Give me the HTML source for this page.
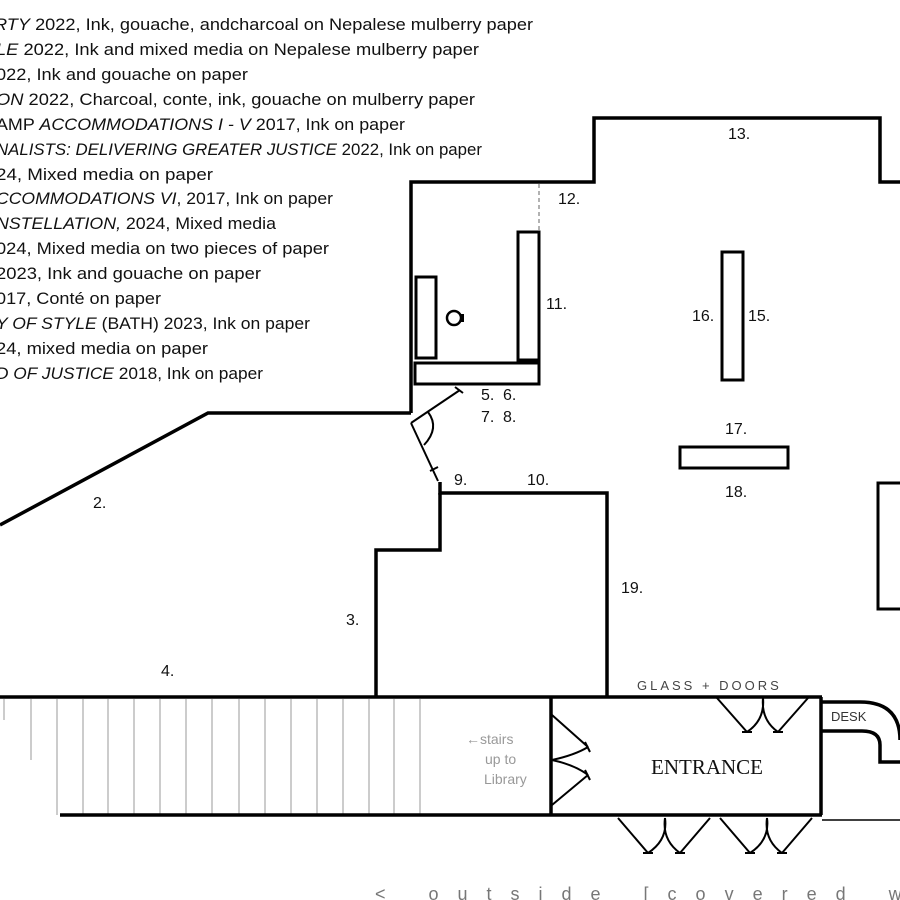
<!DOCTYPE html>
<html><head><meta charset="utf-8"><style>
html,body{margin:0;padding:0;background:#fff;}
svg{display:block;}
.t{font-family:"Liberation Sans",sans-serif;font-size:17px;fill:#111;}
.n{font-family:"Liberation Sans",sans-serif;font-size:16px;fill:#111;}
.w{stroke:#000;stroke-width:3.5;fill:none;}
.p{stroke:#000;stroke-width:3;fill:#fff;}
.d{stroke:#000;stroke-width:2;fill:none;}
</style></head><body>
<svg width="900" height="900" viewBox="0 0 900 900" xmlns="http://www.w3.org/2000/svg">
<g class="t">
<text x="-6" y="30" textLength="539" lengthAdjust="spacingAndGlyphs"><tspan font-style="italic">RTY</tspan> 2022, Ink, gouache, andcharcoal on Nepalese mulberry paper</text>
<text x="-4" y="55" textLength="483" lengthAdjust="spacingAndGlyphs"><tspan font-style="italic">LE</tspan> 2022, Ink and mixed media on Nepalese mulberry paper</text>
<text x="-4" y="80" textLength="252" lengthAdjust="spacingAndGlyphs">022, Ink and gouache on paper</text>
<text x="-4" y="105" textLength="479" lengthAdjust="spacingAndGlyphs"><tspan font-style="italic">ON</tspan> 2022, Charcoal, conte, ink, gouache on mulberry paper</text>
<text x="-4" y="130" textLength="409" lengthAdjust="spacingAndGlyphs">AMP <tspan font-style="italic">ACCOMMODATIONS I - V</tspan> 2017, Ink on paper</text>
<text x="-4" y="155" textLength="486" lengthAdjust="spacingAndGlyphs"><tspan font-style="italic">NALISTS: DELIVERING GREATER JUSTICE</tspan> 2022, Ink on paper</text>
<text x="-4" y="180" textLength="217" lengthAdjust="spacingAndGlyphs">24, Mixed media on paper</text>
<text x="-4" y="204" textLength="337" lengthAdjust="spacingAndGlyphs"><tspan font-style="italic">CCOMMODATIONS VI</tspan>, 2017, Ink on paper</text>
<text x="-4" y="229" textLength="280" lengthAdjust="spacingAndGlyphs"><tspan font-style="italic">NSTELLATION,</tspan> 2024, Mixed media</text>
<text x="-4" y="254" textLength="333" lengthAdjust="spacingAndGlyphs">024, Mixed media on two pieces of paper</text>
<text x="-4" y="279" textLength="265" lengthAdjust="spacingAndGlyphs">2023, Ink and gouache on paper</text>
<text x="-4" y="304" textLength="165" lengthAdjust="spacingAndGlyphs">017, Conté on paper</text>
<text x="-4" y="329" textLength="314" lengthAdjust="spacingAndGlyphs"><tspan font-style="italic">Y OF STYLE</tspan> (BATH) 2023, Ink on paper</text>
<text x="-4" y="354" textLength="212" lengthAdjust="spacingAndGlyphs">24, mixed media on paper</text>
<text x="-4" y="379" textLength="267" lengthAdjust="spacingAndGlyphs"><tspan font-style="italic">D OF JUSTICE</tspan> 2018, Ink on paper</text>
</g>
<g stroke="#999" stroke-width="1">
<line x1="4" y1="699" x2="4" y2="720"/><line x1="31" y1="699" x2="31" y2="760"/>
<line x1="57" y1="699" x2="57" y2="815"/><line x1="83" y1="699" x2="83" y2="815"/>
<line x1="108" y1="699" x2="108" y2="815"/><line x1="134" y1="699" x2="134" y2="815"/>
<line x1="160" y1="699" x2="160" y2="815"/><line x1="186" y1="699" x2="186" y2="815"/>
<line x1="212" y1="699" x2="212" y2="815"/><line x1="239" y1="699" x2="239" y2="815"/>
<line x1="265" y1="699" x2="265" y2="815"/><line x1="291" y1="699" x2="291" y2="815"/>
<line x1="317" y1="699" x2="317" y2="815"/><line x1="343" y1="699" x2="343" y2="815"/>
<line x1="369" y1="699" x2="369" y2="815"/><line x1="394" y1="699" x2="394" y2="815"/>
<line x1="420" y1="699" x2="420" y2="815"/>
</g>
<g font-family="Liberation Sans,sans-serif" font-size="14" fill="#999">
<text x="466" y="744">←stairs</text><text x="485" y="764">up to</text><text x="484" y="784">Library</text>
</g>
<g class="w">
<polyline points="411,413 411,182 594,182 594,118 880,118 880,182 900,182"/>
<polyline points="411,413 208,413 0,525"/>
<polyline points="440,482 440,493 607,493 607,697"/>
<polyline points="440,493 440,550 376,550 376,697"/>
<line x1="0" y1="697" x2="822" y2="697"/>
<line x1="60" y1="815" x2="822" y2="815"/>
<line x1="551" y1="697" x2="551" y2="815"/>
<line x1="821" y1="697" x2="821" y2="815"/>
<path d="M821,702 H860 Q900,702 900,740"/>
<path d="M821,731 H862 Q880,731 880,745 V762 H900"/>
</g>
<line x1="822" y1="820" x2="900" y2="820" stroke="#000" stroke-width="1.5"/>
<line x1="539" y1="184" x2="539" y2="232" stroke="#999" stroke-width="1.5" stroke-dasharray="4,3"/>
<rect class="p" x="518" y="232" width="21" height="128"/>
<rect class="p" x="416" y="277" width="20" height="81"/>
<rect class="p" x="415" y="363" width="124" height="21"/>
<rect class="p" x="722" y="252" width="21" height="128"/>
<rect class="p" x="680" y="447" width="108" height="21"/>
<rect class="p" x="878" y="483" width="30" height="126"/>
<circle cx="454" cy="318" r="7" fill="none" stroke="#000" stroke-width="2.5"/>
<rect x="460" y="314" width="4" height="8" fill="#000"/>
<g class="d">
<line x1="411" y1="423" x2="460" y2="390"/>
<line x1="411" y1="423" x2="438" y2="481"/>
<path d="M428,412 Q440,428 424,445"/>
<line x1="455" y1="387" x2="463" y2="393"/>
<line x1="430" y1="471" x2="438" y2="467"/>
</g>
<g class="d">
<!-- left pair -->
<path d="M552,715 L588,747 M552,805 L588,775 M552,760 Q575,755 588,747 M552,760 Q575,765 588,775"/>
<path d="M585,742 l5,10 M585,770 l5,10"/>
<!-- top pair -->
<path d="M717,698 L747,732 M808,698 L778,732 M763,698 Q765,720 747,732 M763,698 Q761,720 778,732"/>
<path d="M742,732 h10 M773,732 h10"/>
<!-- bottom pairs -->
<path d="M618,818 L648,853 M710,818 L680,853 M665,818 Q668,840 648,853 M665,818 Q662,840 680,853"/>
<path d="M720,818 L750,853 M812,818 L782,853 M767,818 Q770,840 750,853 M767,818 Q764,840 782,853"/>
<path d="M643,853 h10 M675,853 h10 M745,853 h10 M777,853 h10"/>
</g>
<text x="651" y="774" font-family="Liberation Serif,serif" font-size="21" fill="#111">ENTRANCE</text>
<text x="637" y="690" font-family="Liberation Sans,sans-serif" font-size="13" letter-spacing="3" fill="#444">GLASS + DOORS</text>
<text x="831" y="721" font-family="Liberation Sans,sans-serif" font-size="13" fill="#333">DESK</text>
<text x="375" y="900" font-family="Liberation Sans,sans-serif" font-size="18" letter-spacing="19" fill="#777">&lt; outside [covered walkway</text>
<g class="n">
<text x="728" y="139">13.</text><text x="558" y="204">12.</text><text x="546" y="309">11.</text>
<text x="692" y="321">16.</text><text x="748" y="321">15.</text>
<text x="481" y="400">5.</text><text x="503" y="400">6.</text>
<text x="481" y="422">7.</text><text x="503" y="422">8.</text>
<text x="454" y="485">9.</text><text x="527" y="485">10.</text>
<text x="725" y="434">17.</text><text x="725" y="497">18.</text>
<text x="93" y="508">2.</text><text x="621" y="593">19.</text>
<text x="346" y="625">3.</text><text x="161" y="676">4.</text>
</g>
</svg>
</body></html>
